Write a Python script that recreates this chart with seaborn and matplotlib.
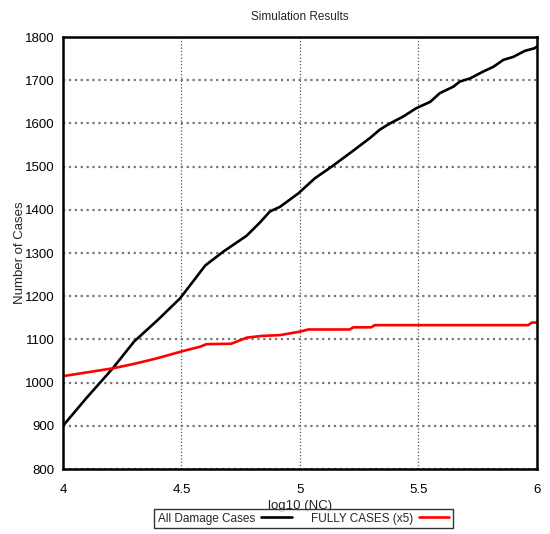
import matplotlib
matplotlib.use("Agg")
import matplotlib.pyplot as plt
import seaborn as sns
import pandas as pd

# data
all_x = [4.0, 4.1, 4.21, 4.30, 4.40, 4.494, 4.55, 4.60, 4.676, 4.775, 4.83, 4.873,
         4.916, 4.993, 5.063, 5.134, 5.225, 5.295, 5.338, 5.38, 5.436, 5.49, 5.55,
         5.59, 5.647, 5.675, 5.717, 5.773, 5.816, 5.858, 5.90, 5.949, 5.99, 6.0]
all_y = [900, 965, 1033, 1095, 1145, 1195, 1235, 1271, 1303, 1340, 1370, 1396,
         1407, 1438, 1473, 1500, 1537, 1566, 1586, 1600, 1616, 1635, 1650,
         1670, 1685, 1697, 1704, 1720, 1731, 1747, 1754, 1768, 1774, 1778]

full_x = [4.0, 4.21, 4.297, 4.395, 4.506, 4.578, 4.606, 4.71, 4.775, 4.838, 4.916,
          5.0, 5.035, 5.21, 5.225, 5.30, 5.316, 5.963, 5.978, 6.0]
full_y = [1015, 1033, 1043, 1056, 1073, 1083, 1089, 1090, 1104, 1108, 1110,
          1118, 1123, 1123, 1128, 1128, 1133, 1133, 1139, 1139]

series_names = ["All Damage Cases", "FULLY CASES (x5)"]
series_colors = ["black", "red"]

df = pd.concat([
    pd.DataFrame({"x": all_x, "y": all_y, "series": series_names[0]}),
    pd.DataFrame({"x": full_x, "y": full_y, "series": series_names[1]}),
])

sns.set_theme(style="white")
plt.rcParams["font.family"] = ["Liberation Sans", "DejaVu Sans"]

fig = plt.figure(figsize=(5.5, 5.34), dpi=100)
ax = fig.add_axes([0.1145, 0.1217, 0.8618, 0.809])

sns.lineplot(data=df, x="x", y="y", hue="series", palette=series_colors,
             linewidth=1.9, sort=False, estimator=None, ax=ax, legend=False)

ax.set_xlim(4, 6)
ax.set_ylim(800, 1800)
ax.set_xticks([4, 4.5, 5, 5.5, 6])
ax.set_xticklabels(["4", "4.5", "5", "5.5", "6"])
ax.set_yticks(range(800, 1801, 100))
ax.grid(True, axis="y", color="#777777", linestyle=":", linewidth=1.6)
ax.grid(True, axis="x", color="#555555", linestyle=":", linewidth=0.9)
ax.tick_params(axis="both", length=0, labelsize=9.5, colors="black")
ax.tick_params(axis="x", pad=11)
ax.tick_params(axis="y", pad=6)
for s in ax.spines.values():
    s.set_color("black")
    s.set_linewidth(1.8)

ax.set_title("Simulation Results", fontsize=8.5, pad=12)
ax.set_xlabel("log10 (NC)", fontsize=9.5, labelpad=3)
ax.set_ylabel("Number of Cases", fontsize=9.5, labelpad=-1)

handles = [plt.Line2D([], [], color=c, linewidth=1.9) for c in series_colors]
leg = fig.legend(handles, series_names, loc="lower center", bbox_to_anchor=(0.552, 0.0),
                 ncol=2, markerfirst=False, frameon=True, fancybox=False, fontsize=8.5,
                 borderpad=0.3, handlelength=2.6, columnspacing=1.6, handletextpad=0.5)
leg.get_frame().set_edgecolor("black")
leg.get_frame().set_linewidth(1.0)

fig.savefig("out.png", dpi=100)
